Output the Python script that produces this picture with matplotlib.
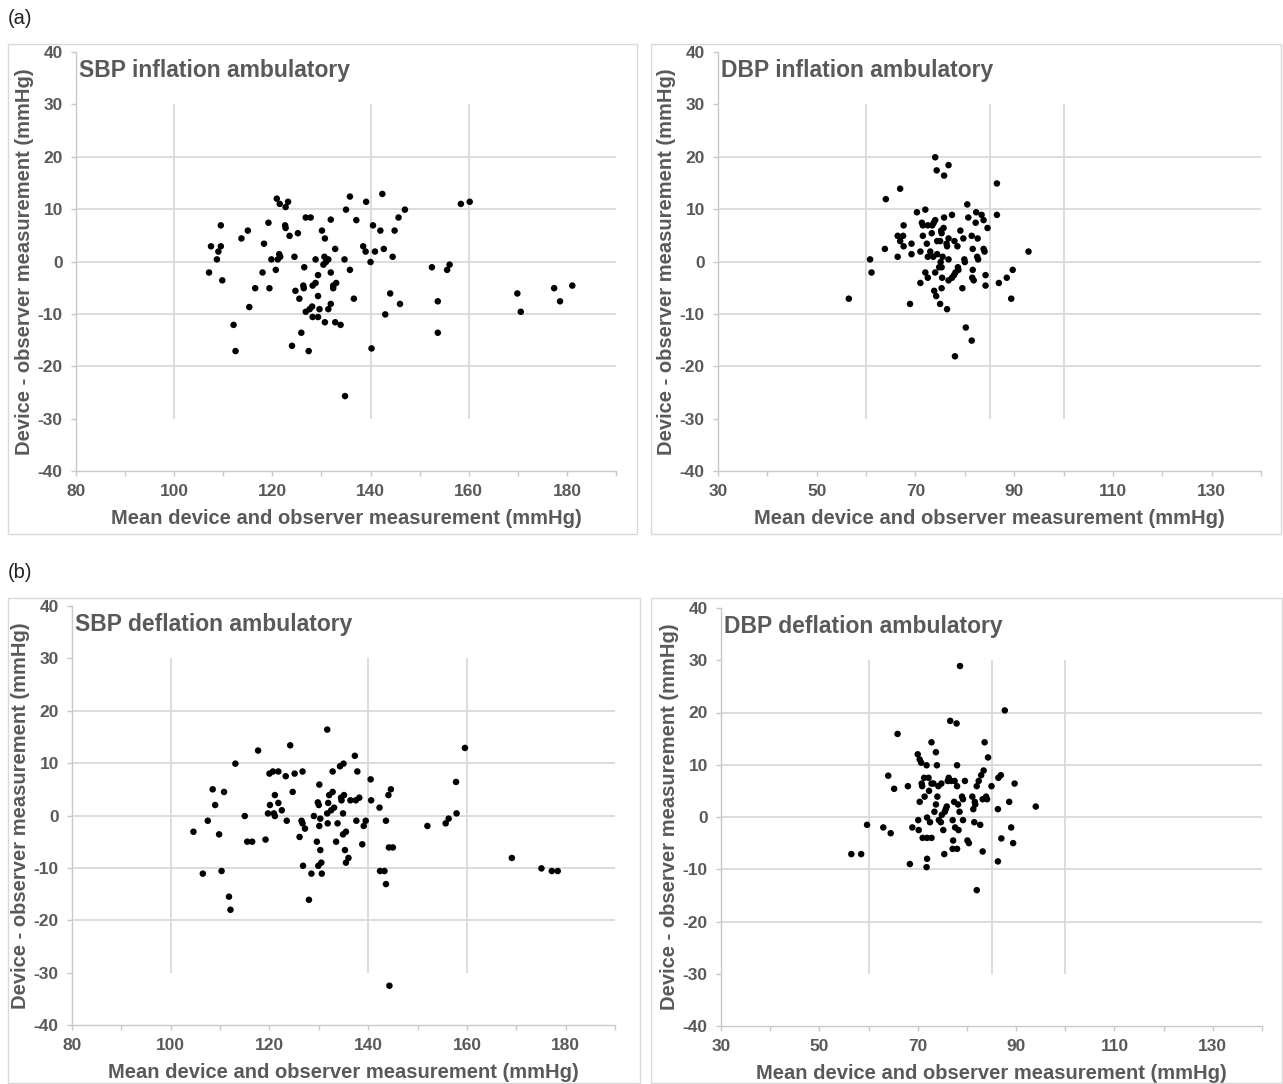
import matplotlib
matplotlib.use("Agg")
import matplotlib.pyplot as plt
from matplotlib.patches import Rectangle

# ---- data (x = mean, y = difference) ----
sbp_infl_x = [107.1, 107.5, 109.5, 109.5, 109.0, 108.7, 109.8, 112.1, 112.5, 113.7,
              115.0, 115.3, 116.5, 118.0, 118.3, 119.2, 119.4, 119.8, 120.7, 120.9,
              121.5, 121.4, 121.1, 121.6, 122.6, 122.7, 122.7, 123.2, 123.5, 124.5,
              124.0, 124.7, 125.2, 125.5, 125.9, 126.3, 126.4, 126.5, 126.8, 127.8,
              126.8, 127.4, 127.6, 128.1, 128.2, 128.2, 128.8, 128.8, 129.3, 129.3,
              129.3, 129.6, 130.1, 130.4, 130.6, 130.7, 130.7, 130.9, 131.4, 131.4,
              131.9, 131.9, 131.9, 132.4, 132.4, 132.8, 133.0, 132.8, 133.9, 134.7,
              134.8, 135.0, 135.8, 135.8, 136.6, 137.1, 138.5, 139.0, 139.1, 140.0,
              140.2, 140.5, 140.9, 142.0, 142.4, 142.7, 143.0, 144.0, 144.5, 144.9,
              145.7, 146.0, 147.0, 152.5, 153.7, 153.7, 155.6, 156.1, 158.4, 160.2,
              169.9, 170.6, 177.4, 178.6, 181.1]
sbp_infl_y = [-2.1, 2.9, 6.9, 2.9, 1.9, 0.4, -3.6, -12.1, -17.1, 4.4,
              5.9, -8.7, -5.1, -2.1, 3.4, 7.4, -5.1, 0.4, -1.6, 12.0,
              11.0, 1.4, 0.4, 0.9, 6.9, 6.4, 10.4, 11.4, 4.9, 0.9,
              -16.1, -5.6, 5.4, -7.1, -13.6, -4.6, -5.1, -1.1, 8.4, 8.4,
              -9.6, -17.1, -9.1, -8.6, -4.6, -10.6, -4.1, 0.4, -2.6, -6.6,
              -10.6, -9.1, 5.9, -0.6, 0.9, 4.4, -11.6, -0.1, 0.4, -9.1,
              8.0, -2.1, -8.1, -4.6, -5.1, 2.4, -4.1, -11.6, -12.1, 0.4,
              -25.7, 9.9, 12.4, -1.6, -7.1, 7.9, 2.9, 1.9, 11.4, -0.1,
              -16.6, 6.9, 1.9, 5.9, 12.9, 2.4, -10.1, -6.1, 0.9, 5.9,
              8.4, -8.1, 9.9, -1.1, -7.6, -13.6, -1.6, -0.6, 11.0, 11.4,
              -6.1, -9.6, -5.1, -7.6, -4.6]

dbp_infl_x = [56.5, 60.8, 61.1, 63.8, 64.0, 66.4, 66.4, 66.9, 66.9, 67.6,
              67.5, 67.6, 68.9, 69.2, 69.2, 70.3, 71.0, 71.0, 71.3, 71.5,
              72.0, 71.5, 72.0, 72.3, 72.5, 72.5, 72.5, 73.0, 73.3, 73.4,
              73.6, 73.7, 74.0, 74.0, 74.3, 73.8, 74.2, 74.0, 74.4, 74.4,
              74.8, 75.0, 75.0, 75.1, 75.2, 75.3, 75.3, 75.3, 75.4, 75.5,
              75.7, 75.8, 75.8, 76.3, 76.4, 76.4, 76.7, 76.7, 76.7, 76.7,
              77.4, 77.4, 77.8, 77.9, 78.0, 78.1, 78.5, 78.6, 78.7, 79.1,
              79.5, 79.7, 79.9, 80.0, 80.2, 80.5, 80.7, 81.4, 81.5, 81.8,
              81.6, 81.6, 81.4, 82.3, 82.2, 82.6, 82.5, 82.7, 83.4, 83.8,
              83.8, 84.0, 84.2, 84.2, 84.6, 86.5, 86.5, 86.9, 88.5, 89.4,
              89.7, 92.9]
dbp_infl_y = [-7.1, 0.4, -2.1, 2.4, 11.9, 4.9, 0.9, 13.9, 3.9, 6.9,
              4.9, 2.9, -8.1, 3.4, 1.4, 9.4, 1.9, -4.1, 7.4, 4.9,
              9.9, 6.9, -2.1, 3.4, 0.9, -3.1, 6.9, 1.9, 5.4, 6.9,
              0.9, 7.4, 7.9, 19.9, 17.4, -5.6, -6.6, -2.1, 3.9, 1.4,
              -1.1, 3.9, -8.1, -0.1, 5.9, 5.4, -1.1, -5.1, -3.1, 0.9,
              6.4, 16.4, 8.4, 3.4, 2.9, -9.1, 18.4, 4.4, 0.4, -3.6,
              8.9, -3.1, -2.6, 3.9, -18.1, -2.1, 2.9, -1.1, -1.6, 5.9,
              -5.1, 4.4, 0.4, -0.1, -12.6, 10.9, 8.4, 4.9, -3.1, -3.6,
              2.4, -1.6, -15.1, 9.4, 7.4, 4.4, 0.9, 0.4, 8.9, 7.9,
              2.4, 1.9, -2.6, -4.6, 6.4, 14.9, 8.9, -4.1, -3.1, -7.1,
              -1.6, 1.9]

sbp_defl_x = [104.6, 106.5, 107.5, 108.5, 109.0, 109.8, 110.3, 110.8, 111.8, 112.1,
              113.1, 115.0, 115.5, 116.5, 117.7, 119.2, 119.7, 120.0, 120.1, 120.7,
              120.9, 121.1, 121.1, 121.8, 121.8, 122.5, 123.3, 123.5, 124.2, 124.7,
              125.1, 126.1, 126.5, 126.7, 126.7, 126.8, 127.2, 128.0, 128.5, 129.0,
              129.6, 129.8, 129.9, 130.0, 130.1, 130.1, 130.3, 130.3, 130.5, 130.6,
              131.7, 131.9, 131.8, 131.7, 132.1, 132.5, 132.8, 132.8, 133.1, 133.5,
              133.8, 134.3, 134.5, 134.6, 134.9, 134.9, 135.0, 135.1, 135.3, 135.5,
              135.5, 136.0, 136.4, 137.3, 137.5, 137.6, 137.8, 138.2, 138.8, 139.1,
              139.5, 140.5, 140.6, 142.3, 142.4, 143.3, 143.6, 143.6, 144.1, 144.2,
              144.3, 144.6, 145.0, 152.0, 155.7, 156.3, 157.8, 157.9, 159.6, 169.1,
              175.1, 177.2, 178.4]
sbp_defl_y = [-3.1, -11.1, -1.0, 5.0, 2.0, -3.6, -10.6, 4.5, -15.5, -18.0,
              9.9, -0.1, -5.0, -5.0, 12.4, -4.6, 0.4, 8.0, 2.0, 8.4,
              0.4, -0.1, 3.9, 8.4, 2.4, 1.0, 7.5, -1.0, 13.4, 4.5,
              8.0, -4.1, -1.0, 8.4, -1.5, -9.6, -2.5, -16.1, -11.1, -0.1,
              -5.0, 2.5, -9.6, 2.0, 5.9, -2.0, -0.6, -6.6, -9.0, -11.1,
              16.4, 2.4, -1.5, 0.4, 3.9, 1.0, 4.5, 8.4, 1.5, -5.0,
              -1.5, 9.4, 3.4, 2.9, 0.4, -3.6, 9.9, 3.9, -6.6, -3.1,
              -9.0, -8.1, 2.9, 11.4, 2.9, -1.0, 8.4, 3.4, -5.5, -2.0,
              -1.0, 6.9, 2.9, 1.5, -10.6, -10.6, -1.0, -13.1, 3.9, -6.1,
              -32.5, 5.0, -6.1, -2.0, -1.5, -0.6, 6.4, 0.4, 12.9, -8.1,
              -10.1, -10.6, -10.6]

dbp_defl_x = [56.5, 58.5, 59.7, 63.0, 64.0, 64.5, 65.2, 65.9, 68.0, 68.4,
              68.9, 70.0, 70.1, 70.2, 70.4, 70.4, 70.7, 70.8, 70.9, 71.0,
              71.3, 71.4, 71.8, 71.9, 71.9, 71.8, 71.9, 72.2, 72.3, 72.5,
              72.8, 72.8, 72.8, 73.2, 73.4, 73.7, 73.7, 73.9, 74.0, 74.2,
              74.3, 74.7, 74.8, 74.9, 75.2, 75.4, 75.5, 75.7, 75.9, 76.1,
              76.3, 76.6, 76.8, 77.1, 77.1, 77.2, 77.4, 77.5, 77.6, 77.9,
              78.0, 78.0, 78.0, 78.2, 78.3, 78.5, 78.6, 79.0, 79.2, 79.2,
              79.6, 80.1, 80.4, 81.1, 81.3, 81.5, 81.6, 81.7, 82.0, 82.0,
              82.4, 82.7, 82.9, 83.2, 83.4, 83.2, 83.6, 83.9, 84.1, 84.3,
              85.0, 86.3, 86.3, 86.4, 86.9, 87.0, 87.7, 88.6, 89.0, 89.4,
              89.7, 94.0]
dbp_defl_y = [-7.1, -7.1, -1.5, -2.0, 7.9, -3.1, 5.4, 15.9, 5.9, -9.0,
              -2.0, 12.0, -0.6, -2.5, 2.9, 11.0, 10.4, 6.4, 5.9, -4.0,
              7.5, 3.9, 9.9, -0.1, -8.0, -9.6, -4.0, 7.5, 5.0, -1.0,
              14.3, -4.0, 6.4, 6.4, 1.0, 2.4, 12.4, 9.9, 3.9, 5.9,
              -0.6, -1.0, 6.4, 0.4, -2.5, -7.1, 1.0, 1.5, 2.0, 6.9,
              7.5, 18.4, 6.9, -6.1, -0.6, -4.5, 2.9, 6.9, -2.0, 17.9,
              9.9, 5.9, -6.1, 2.4, -2.5, 1.0, 28.9, 3.9, -0.6, 3.4,
              6.9, -4.5, -5.0, 3.9, 1.5, -1.0, 2.9, 2.4, 5.9, -14.0,
              6.9, -1.5, 8.0, -6.6, 8.9, 3.4, 14.3, 3.9, 3.4, 11.4,
              5.9, 1.5, -8.5, 7.5, 8.0, -4.1, 20.4, 2.9, -2.0, -5.0,
              6.4, 2.0]

titles = ["SBP inflation ambulatory", "DBP inflation ambulatory",
          "SBP deflation ambulatory", "DBP deflation ambulatory"]
panel_tags = ["(a)", "(b)"]

sbp_xlim = (80, 190)
dbp_xlim = (30, 140)
sbp_xlabels = [80, 100, 120, 140, 160, 180]
dbp_xlabels = [30, 50, 70, 90, 110, 130]
sbp_ref_x = [100, 140, 160]
dbp_ref_x = [60, 85, 100]
grid_y = [-20, -10, 0, 10, 20]
y_ticks = [-40, -30, -20, -10, 0, 10, 20, 30, 40]

XLABEL = "Mean device and observer measurement (mmHg)"
YLABEL = "Device - observer measurement (mmHg)"

GRID = "#d9d9d9"
SPINE = "#c8c8c8"
TEXT = "#595959"

plt.rcParams["font.family"] = ["Liberation Sans", "DejaVu Sans"]
plt.rcParams["axes.unicode_minus"] = False

W, H = 1283, 1084
fig = plt.figure(figsize=(W / 100, H / 100), dpi=100)

# axes boxes in pixels: left, right, top, bottom
boxes = [(76, 616, 52, 471), (718, 1261, 52, 471),
         (72, 615, 606, 1025), (721, 1262, 608, 1026)]
frames = [(8, 637, 44, 534), (651, 1281, 44, 534),
          (8, 640, 598, 1083), (651, 1282, 598, 1083)]

panels = [
    (sbp_infl_x, sbp_infl_y, sbp_xlim, sbp_xlabels, sbp_ref_x),
    (dbp_infl_x, dbp_infl_y, dbp_xlim, dbp_xlabels, dbp_ref_x),
    (sbp_defl_x, sbp_defl_y, sbp_xlim, sbp_xlabels, sbp_ref_x),
    (dbp_defl_x, dbp_defl_y, dbp_xlim, dbp_xlabels, dbp_ref_x),
]

for i, (xs, ys, xlim, xlabs, refs) in enumerate(panels):
    fl, fr, ft, fb = frames[i]
    fig.patches.append(Rectangle((fl / W, 1 - fb / H), (fr - fl) / W, (fb - ft) / H,
                                 transform=fig.transFigure, fill=False,
                                 edgecolor=GRID, linewidth=1.0))

    l, r, t, b = boxes[i]
    ax = fig.add_axes([l / W, 1 - b / H, (r - l) / W, (b - t) / H])
    ax.set_xlim(*xlim)
    ax.set_ylim(-40, 40)

    for gy in grid_y:
        ax.axhline(gy, color=GRID, linewidth=1.3, zorder=1)
    ax.vlines(refs, -30, 30, color=GRID, linewidth=1.3, zorder=1)

    ax.scatter(xs, ys, s=22, color="black", edgecolors="none", zorder=3)

    xt = list(range(xlim[0], xlim[1] + 1, 10))
    ax.set_xticks(xt)
    ax.set_xticklabels([str(v) if v in xlabs else "" for v in xt])
    ax.set_yticks(y_ticks)
    ax.tick_params(direction="out", length=3.5, width=1, color=SPINE,
                   labelcolor=TEXT, labelsize=12.5, pad=6)
    for lab in ax.get_xticklabels() + ax.get_yticklabels():
        lab.set_fontweight("bold")

    for side in ["top", "right"]:
        ax.spines[side].set_visible(False)
    for side in ["left", "bottom"]:
        ax.spines[side].set_color(SPINE)
        ax.spines[side].set_linewidth(1.0)

    ax.set_xlabel(XLABEL, fontsize=14.5, fontweight="bold", color=TEXT, labelpad=7)
    ax.set_ylabel(YLABEL, fontsize=14.5, fontweight="bold", color=TEXT, labelpad=3)
    ax.text(0.005, 0.955, titles[i], transform=ax.transAxes, fontsize=16.5,
            fontweight="bold", color=TEXT, ha="left", va="center")

fig.text(8 / W, 1 - 18 / H, panel_tags[0], fontsize=14.5, color="#222222",
         ha="left", va="center")
fig.text(8 / W, 1 - 572 / H, panel_tags[1], fontsize=14.5, color="#222222",
         ha="left", va="center")

fig.savefig("out.png", dpi=100, facecolor="white")
